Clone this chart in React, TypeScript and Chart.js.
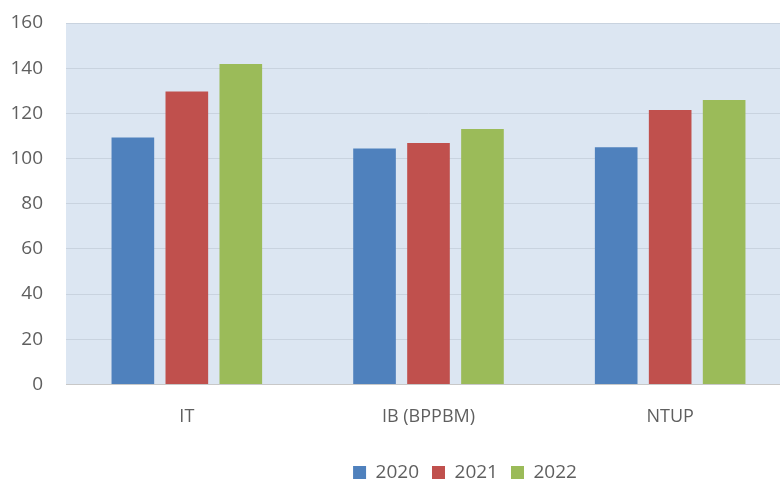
import React, { useEffect, useRef } from "react";
import { Chart, registerables } from "chart.js";

Chart.register(...registerables);

const categories = ["IT", "IB (BPPBM)", "NTUP"];
const seriesNames = ["2020", "2021", "2022"];
const values2020 = [109.3, 104.4, 105.0];
const values2021 = [129.7, 106.9, 121.5];
const values2022 = [141.9, 113.1, 125.9];
const seriesColors = ["#4f81bd", "#c0504d", "#9bbb59"];
const yTicks = [0, 20, 40, 60, 80, 100, 120, 140, 160];

const FONT = "'Open Sans', 'Noto Sans', sans-serif";
const TEXT = "#5f5f5f";

const plotBg = {
  id: "plotBg",
  beforeDraw(chart: any) {
    const { ctx, chartArea } = chart;
    if (!chartArea) return;
    ctx.save();
    ctx.fillStyle = "#dce6f2";
    ctx.fillRect(chartArea.left, chartArea.top, chartArea.right - chartArea.left, chartArea.bottom - chartArea.top);
    ctx.restore();
  },
};

export default function App() {
  const ref = useRef<HTMLCanvasElement | null>(null);
  useEffect(() => {
    if (!ref.current) return;
    const allValues = [values2020, values2021, values2022];
    const chart = new Chart(ref.current, {
      type: "bar",
      data: {
        labels: categories,
        datasets: seriesNames.map((name, i) => ({
          label: name,
          data: allValues[i],
          backgroundColor: seriesColors[i],
          borderWidth: 0,
          barPercentage: 0.79,
          categoryPercentage: 0.67,
        })),
      },
      options: {
        responsive: false,
        animation: false,
        devicePixelRatio: 1,
        layout: { padding: { top: 23, left: 0, right: 0, bottom: -10 } },
        plugins: {
          tooltip: { enabled: false },
          legend: {
            position: "bottom",
            labels: {
              boxWidth: 13,
              boxHeight: 13,
              padding: 13,
              color: TEXT,
              font: { family: FONT, size: 19 },
            },
          },
        },
        scales: {
          x: {
            grid: { display: false, drawTicks: false },
            border: { display: true, color: "#c8c8c8", width: 1 },
            ticks: { color: TEXT, font: { family: FONT, size: 18 }, padding: 22 },
          },
          y: {
            min: 0,
            max: 160,
            afterBuildTicks: (s: any) => {
              s.ticks = yTicks.map((v) => ({ value: v }));
            },
            afterFit: (s: any) => {
              s.width = 66;
              s.paddingTop = 0;
              s.paddingBottom = 0;
            },
            grid: { color: "#c9d3df", drawTicks: false },
            border: { display: false },
            ticks: { color: TEXT, font: { family: FONT, size: 19 }, padding: 23 },
          },
          y2: {
            position: "right",
            display: true,
            grid: { display: false, drawTicks: false },
            border: { display: false },
            ticks: { display: false },
            afterFit: (s: any) => {
              s.width = 139;
              s.paddingTop = 0;
              s.paddingBottom = 0;
            },
          },
        },
      },
      plugins: [plotBg],
    });
    return () => chart.destroy();
  }, []);
  return (
    <div style={{ position: "fixed", left: 0, top: 0, width: 780, height: 482, overflow: "hidden", background: "#fff" }}>
      <canvas ref={ref} width={930} height={482} style={{ display: "block" }} />
    </div>
  );
}
